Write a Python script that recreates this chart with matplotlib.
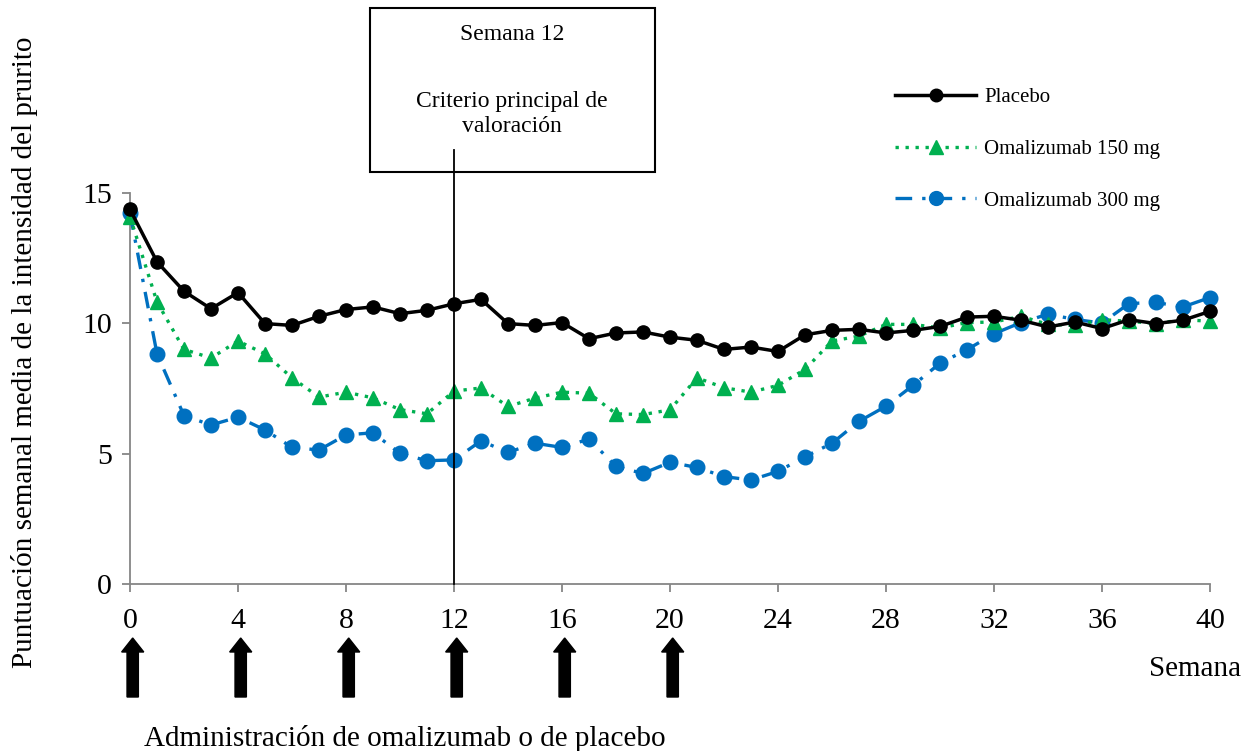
import matplotlib
matplotlib.use("Agg")
import matplotlib.pyplot as plt
from matplotlib.patches import Rectangle, FancyArrow
from matplotlib.transforms import blended_transform_factory

plt.rcParams['font.family'] = ['Liberation Serif', 'DejaVu Serif']

weeks = list(range(0, 41))
placebo = [14.37, 12.36, 11.23, 10.56, 11.18, 9.99, 9.92, 10.27, 10.53, 10.63,
           10.37, 10.50, 10.75, 10.92, 9.99, 9.92, 10.03, 9.41, 9.63, 9.67,
           9.47, 9.35, 9.00, 9.09, 8.92, 9.56, 9.73, 9.77, 9.63, 9.73,
           9.88, 10.24, 10.27, 10.12, 9.86, 10.05, 9.80, 10.14, 9.99, 10.12,
           10.46]
oma150 = [14.09, 10.82, 9.00, 8.67, 9.32, 8.83, 7.91, 7.17, 7.36, 7.14,
          6.69, 6.53, 7.40, 7.52, 6.81, 7.13, 7.36, 7.32, 6.53, 6.50,
          6.68, 7.91, 7.53, 7.36, 7.62, 8.23, 9.32, 9.51, 9.96, 9.96,
          9.82, 10.03, 10.05, 10.27, 9.96, 9.92, 10.14, 10.08, 9.99, 10.14,
          10.08]
oma300 = [14.22, 8.83, 6.46, 6.10, 6.40, 5.91, 5.24, 5.14, 5.72, 5.80,
          5.01, 4.73, 4.76, 5.49, 5.05, 5.40, 5.24, 5.56, 4.51, 4.24,
          4.67, 4.47, 4.12, 3.99, 4.32, 4.88, 5.40, 6.24, 6.82, 7.62,
          8.47, 8.99, 9.60, 10.03, 10.35, 10.15, 10.01, 10.76, 10.80, 10.63,
          10.99]
labels = ['Placebo', 'Omalizumab 150 mg', 'Omalizumab 300 mg']
xticks = list(range(0, 41, 4))
yticks = [0, 5, 10, 15]
dose_weeks = [0, 4, 8, 12, 16, 20]

W, H = 1243, 751
fig = plt.figure(figsize=(W / 100, H / 100), dpi=100)
ax = fig.add_axes([130 / W, 1 - 584 / H, 1080 / W, (584 - 193) / H])

gray = '#868686'
l1, = ax.plot(weeks, placebo, color='black', lw=2.5, marker='o', ms=9.5,
              clip_on=False, zorder=5, label=labels[0])
l2, = ax.plot(weeks, oma150, color='#00B050', lw=2.4, ls=(0, (1, 2)),
              marker='^', ms=10, clip_on=False, zorder=4, label=labels[1])
l3, = ax.plot(weeks, oma300, color='#0070C0', lw=2.4, ls=(0, (5, 3, 1, 3)),
              marker='o', ms=10.5, clip_on=False, zorder=3, label=labels[2])

ax.set_xlim(0, 40)
ax.set_ylim(0, 15)
ax.set_xticks(xticks)
ax.set_yticks(yticks)
for s in ['top', 'right']:
    ax.spines[s].set_visible(False)
for s in ['left', 'bottom']:
    ax.spines[s].set_color(gray)
    ax.spines[s].set_linewidth(1.3)
ax.tick_params(axis='both', direction='out', length=6, width=1.3, color=gray,
               labelsize=21.5, labelcolor='black')
ax.tick_params(axis='x', pad=11)
ax.tick_params(axis='y', pad=7)

# Vertical marker at week 12 extending up to the box
ax.plot([12, 12], [0, 16.65], color='black', lw=1.3, clip_on=False, zorder=6)

# Annotation box
fig.patches.append(Rectangle((370 / W, 1 - 172 / H), 285 / W, 164 / H,
                             transform=fig.transFigure, fill=False,
                             edgecolor='black', lw=1.5))
fig.text(512 / W, 1 - 35 / H, 'Semana 12', ha='center', va='center', fontsize=17)
fig.text(512 / W, 1 - 114 / H, 'Criterio principal de\nvaloración', ha='center',
         va='center', fontsize=17, linespacing=1.2)

# Legend
fig.legend(handles=[l1, l2, l3], loc='upper left',
           bbox_to_anchor=(885 / W, 1 - 77 / H), frameon=False, fontsize=15,
           handlelength=3.85, labelspacing=1.55, handletextpad=0.4,
           borderpad=0, markerscale=0.95)

# Dosing arrows
trans = blended_transform_factory(ax.transData, fig.transFigure)
for wk in dose_weeks:
    a = FancyArrow(wk + 0.1, 1 - 697 / H, 0, 59 / H, width=0.42,
                   head_width=0.82, head_length=14 / H,
                   length_includes_head=True, color='black',
                   transform=trans, clip_on=False)
    fig.patches.append(a)

fig.text(1195 / W, 1 - 669 / H, 'Semana', ha='center', va='center', fontsize=21)
fig.text(405 / W, 1 - 739 / H, 'Administración de omalizumab o de placebo',
         ha='center', va='center', fontsize=21)
fig.text(25 / W, 1 - 352 / H,
         'Puntuación semanal media de la intensidad del prurito',
         rotation=90, ha='center', va='center', fontsize=21)

fig.savefig('out.png', dpi=100)
